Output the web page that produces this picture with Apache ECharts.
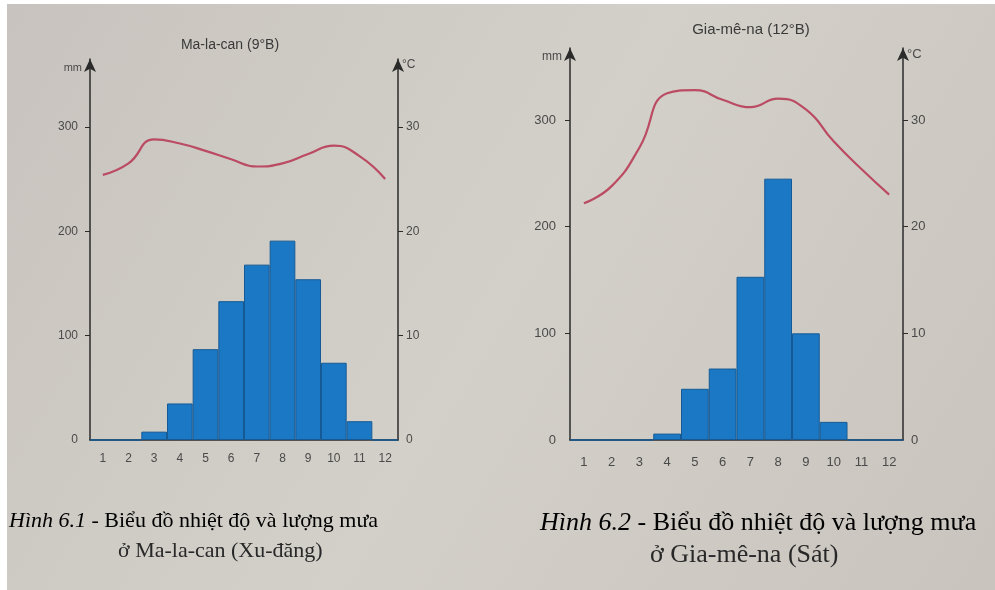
<!DOCTYPE html>
<html>
<head>
<meta charset="utf-8">
<script src="https://cdn.jsdelivr.net/npm/echarts@6/dist/echarts.min.js"></script>
<style>
html,body{margin:0;padding:0;background:#ffffff;}
#c{width:995px;height:590px;}
</style>
</head>
<body>
<div id="c"></div>
<script>
// ---- data ----
const months = ['1','2','3','4','5','6','7','8','9','10','11','12'];
const malacanRain = [0, 0, 8, 35, 87, 133, 168, 191, 154, 74, 18, 0];
const malacanTemp = [25.4, 26.5, 28.8, 28.4, 27.7, 26.9, 26.2, 26.5, 27.4, 28.2, 27.2, 25.0];
const gamenaRain = [0, 0, 0, 6, 48, 67, 153, 245, 100, 17, 0, 0];
const gamenaTemp = [22.2, 23.8, 27.4, 32.5, 32.8, 31.9, 31.2, 32.0, 31.0, 28.0, 25.4, 23.0];
const rainTicks = [0, 100, 200, 300];
const tempTicks = [0, 10, 20, 30];
const titles = ['Ma-la-can (9°B)', 'Gia-mê-na (12°B)'];
const captions = [
  ['Hình 6.1', ' - Biểu đồ nhiệt độ và lượng mưa', 'ở Ma-la-can (Xu-đăng)'],
  ['Hình 6.2', ' - Biểu đồ nhiệt độ và lượng mưa', 'ở Gia-mê-na (Sát)']
];

const axisColor = '#2b2b2b';
const labelColor = '#4a4a4a';
const sans = 'Liberation Sans';
const serif = 'Liberation Serif';
const barColor = '#1b78c4';
const barBorder = '#155a95';
const lineColor = '#bb4a63';
const capColor = '#282828';

function yAxisRain(gi, max, fs, margin) {
  return {
    gridIndex: gi, type: 'value', position: 'left', min: 0, max: max, interval: 100,
    axisLine: {show: true, lineStyle: {color: axisColor, width: 1.5}, symbol: ['none', 'arrow'], symbolSize: [9, 13]},
    axisTick: {show: true, length: 5, customValues: [100, 200, 300], lineStyle: {color: axisColor}},
    axisLabel: {customValues: rainTicks, color: labelColor, fontFamily: sans, fontSize: fs, margin: margin},
    splitLine: {show: false},
    name: 'mm', nameLocation: 'end', nameGap: -9,
    nameTextStyle: {color: labelColor, fontFamily: sans, fontSize: fs - 1, align: 'right', verticalAlign: 'middle', padding: [0, 8, 0, 0]}
  };
}
function yAxisTemp(gi, max, fs) {
  return {
    gridIndex: gi, type: 'value', position: 'right', min: 0, max: max, interval: 10,
    axisLine: {show: true, lineStyle: {color: axisColor, width: 1.5}, symbol: ['none', 'arrow'], symbolSize: [9, 13]},
    axisTick: {show: true, length: 5, customValues: [10, 20, 30], lineStyle: {color: axisColor}},
    axisLabel: {customValues: tempTicks, color: labelColor, fontFamily: sans, fontSize: fs, margin: 8},
    splitLine: {show: false},
    name: '°C', nameLocation: 'end', nameGap: -6,
    nameTextStyle: {color: labelColor, fontFamily: sans, fontSize: fs, align: 'left', verticalAlign: 'middle', padding: [0, 0, 0, 4]}
  };
}
function xAxisM(gi, fs, margin) {
  return {
    gridIndex: gi, type: 'category', data: months, boundaryGap: true,
    axisLine: {show: true, lineStyle: {color: axisColor, width: 1.5}},
    axisTick: {show: false},
    axisLabel: {color: labelColor, fontFamily: sans, fontSize: fs, margin: margin, interval: 0}
  };
}
function barSeries(gi, data) {
  return {
    type: 'bar', xAxisIndex: gi, yAxisIndex: gi * 2, data: data, barCategoryGap: '0%',
    itemStyle: {color: barColor, borderColor: barBorder, borderWidth: 1},
    silent: true, z: 2
  };
}
function lineSeries(gi, data) {
  return {
    type: 'line', xAxisIndex: gi, yAxisIndex: gi * 2 + 1, data: data, smooth: 0.5,
    symbol: 'none', lineStyle: {color: lineColor, width: 2.2}, silent: true, z: 3
  };
}

const chart = echarts.init(document.getElementById('c'));
chart.setOption({
  animation: false,
  backgroundColor: 'transparent',
  grid: [
    {left: 90, top: 59, width: 308, height: 381},
    {left: 570, top: 48, width: 333, height: 392}
  ],
  xAxis: [xAxisM(0, 12, 13), xAxisM(1, 13, 16)],
  yAxis: [
    yAxisRain(0, 365, 12, 12), yAxisTemp(0, 36.5, 12),
    yAxisRain(1, 367.5, 13, 14), yAxisTemp(1, 36.75, 13)
  ],
  series: [
    barSeries(0, malacanRain), lineSeries(0, malacanTemp),
    barSeries(1, gamenaRain), lineSeries(1, gamenaTemp)
  ],
  graphic: [
    {type: 'rect', z: -100, silent: true, shape: {x: 7, y: 4, width: 988, height: 586},
     style: {fill: {type: 'linear', x: 0, y: 0, x2: 1, y2: 1, colorStops: [
       {offset: 0, color: '#c8c3be'}, {offset: 0.5, color: '#d3d0c9'}, {offset: 1, color: '#c9c4be'}]}}},
    {type: 'text', x: 230, y: 45, silent: true,
     style: {text: titles[0], font: '14px "Liberation Sans"', fill: '#3a3a3a', align: 'center', verticalAlign: 'middle'}},
    {type: 'text', x: 751, y: 30, silent: true,
     style: {text: titles[1], font: '15px "Liberation Sans"', fill: '#3a3a3a', align: 'center', verticalAlign: 'middle'}},
    {type: 'text', x: 9, y: 521, silent: true,
     style: {text: '{i|' + captions[0][0] + '}{n|' + captions[0][1] + '}', verticalAlign: 'middle',
       rich: {i: {fontFamily: serif, fontStyle: 'italic', fontSize: 22, color: capColor},
              n: {fontFamily: serif, fontSize: 22, color: capColor}}}},
    {type: 'text', x: 118, y: 551, silent: true,
     style: {text: captions[0][2], font: '22px "Liberation Serif"', fill: capColor, verticalAlign: 'middle'}},
    {type: 'text', x: 540, y: 523, silent: true,
     style: {text: '{i|' + captions[1][0] + '}{n|' + captions[1][1] + '}', verticalAlign: 'middle',
       rich: {i: {fontFamily: serif, fontStyle: 'italic', fontSize: 26, color: capColor},
              n: {fontFamily: serif, fontSize: 26, color: capColor}}}},
    {type: 'text', x: 650, y: 555, silent: true,
     style: {text: captions[1][2], font: '26px "Liberation Serif"', fill: capColor, verticalAlign: 'middle'}}
  ]
});
</script>
</body>
</html>
